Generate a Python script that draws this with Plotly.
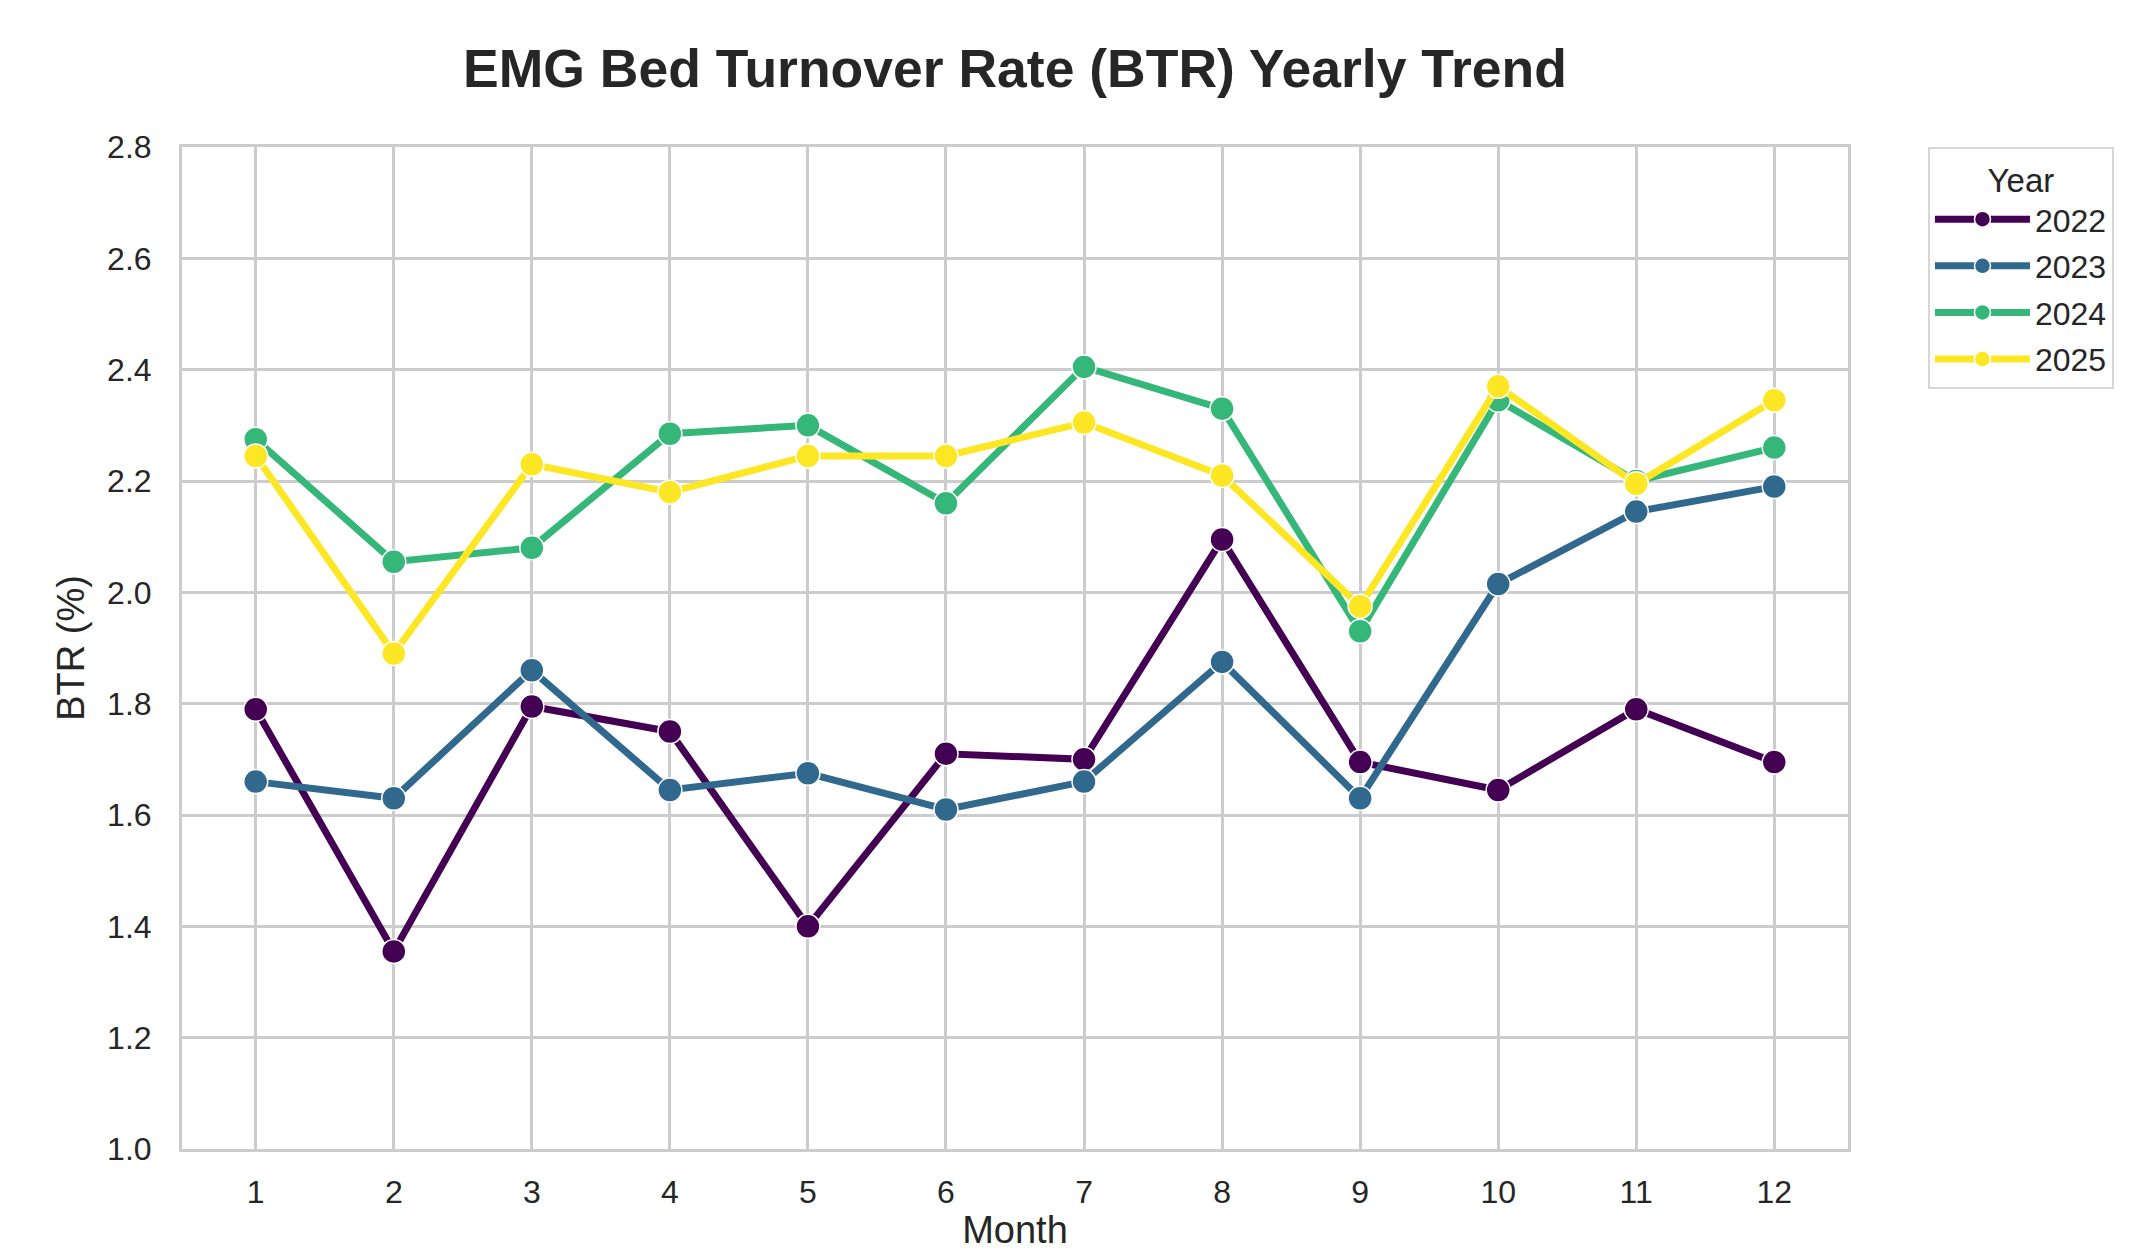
import plotly.graph_objects as go

months = [1, 2, 3, 4, 5, 6, 7, 8, 9, 10, 11, 12]
years = ["2022", "2023", "2024", "2025"]
btr_2022 = [1.79, 1.355, 1.795, 1.75, 1.40, 1.71, 1.70, 2.095, 1.695, 1.645, 1.79, 1.695]
btr_2023 = [1.66, 1.63, 1.86, 1.645, 1.675, 1.61, 1.66, 1.875, 1.63, 2.015, 2.145, 2.19]
btr_2024 = [2.275, 2.055, 2.08, 2.285, 2.30, 2.16, 2.405, 2.33, 1.93, 2.345, 2.20, 2.26]
btr_2025 = [2.245, 1.89, 2.23, 2.18, 2.245, 2.245, 2.305, 2.21, 1.975, 2.37, 2.195, 2.345]
series = [btr_2022, btr_2023, btr_2024, btr_2025]
colors = ["#440154", "#31688e", "#35b779", "#fde725"]
y_ticks = [1.0, 1.2, 1.4, 1.6, 1.8, 2.0, 2.2, 2.4, 2.6, 2.8]

FONT = "Liberation Sans, Arial, Helvetica, sans-serif"
TXT = "#262626"
GRID = "#cccccc"

W, H = 2130, 1243
L, T, R, B = 174, 139, 290, 102

fig = go.Figure()
for yr, vals, col in zip(years, series, colors):
    fig.add_trace(go.Scatter(
        x=months, y=vals, name=yr, mode="lines+markers",
        legendgroup=yr,
        line=dict(color=col, width=7),
        marker=dict(color=col, size=24, line=dict(color="white", width=1.5)),
    ))

fig.update_layout(
    width=W, height=H,
    margin=dict(l=L, r=R, t=T, b=B),
    paper_bgcolor="white", plot_bgcolor="white",
    font=dict(family=FONT, color=TXT, size=32),
    title=dict(text="<b>EMG Bed Turnover Rate (BTR) Yearly Trend</b>",
               x=(L + (W - R)) / 2 / W, xanchor="center",
               y=1 - 60 / H, yanchor="middle",
               font=dict(family=FONT, size=53.5, color=TXT)),
    legend=dict(
        title=dict(text="Year", side="top center", font=dict(size=33, color=TXT)),
        font=dict(size=32, color=TXT),
        x=1.048, xanchor="left", y=1.0, yanchor="top",
        bordercolor="#d6d6d6", borderwidth=2, bgcolor="white",
        tracegroupgap=2, itemwidth=95,
    ),
    showlegend=True,
)

fig.update_xaxes(
    range=[0.466, 12.534], tickmode="array", tickvals=months,
    ticktext=[str(m) for m in months],
    showgrid=True, gridcolor=GRID, gridwidth=2.5,
    showline=True, linecolor=GRID, linewidth=3, mirror=True,
    zeroline=False, ticks="", ticklabelstandoff=13, automargin=False,
    tickfont=dict(size=32, color=TXT),
    title=dict(text="Month", font=dict(size=38, color=TXT), standoff=19),
)
fig.update_yaxes(
    range=[1.0, 2.8], tickmode="array", tickvals=y_ticks,
    ticktext=[f"{v:.1f}" for v in y_ticks],
    showgrid=True, gridcolor=GRID, gridwidth=2.5,
    showline=True, linecolor=GRID, linewidth=3, mirror=True,
    zeroline=False, ticks="", ticklabelstandoff=21, automargin=False,
    tickfont=dict(size=32, color=TXT),
    title=dict(text="BTR (%)", font=dict(size=38, color=TXT), standoff=11),
)

fig.write_html("out.html")
